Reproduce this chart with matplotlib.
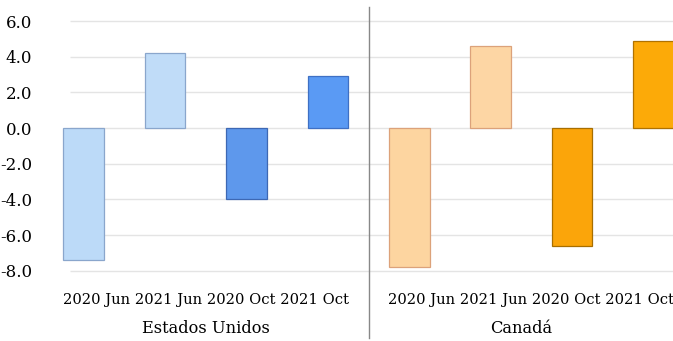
import matplotlib
matplotlib.use("Agg")
import matplotlib.pyplot as plt

# datos
periodos = ["2020 Jun", "2021 Jun", "2020 Oct", "2021 Oct"]
paises = ["Estados Unidos", "Canadá"]
valores_eeuu = [-7.4, 4.2, -4.0, 2.9]
valores_canada = [-7.8, 4.6, -6.6, 4.9]
yticks = [-8.0, -6.0, -4.0, -2.0, 0.0, 2.0, 4.0, 6.0]

colores_eeuu = ["#bcdaf8", "#c0dcf8", "#5e98ec", "#5a9af4"]
bordes_eeuu = ["#8aa6cc", "#8aa6cc", "#3d68b4", "#3f70c4"]
colores_canada = ["#fdd5a0", "#fdd6a4", "#fba50a", "#fcaa08"]
bordes_canada = ["#dca27a", "#dca27a", "#a86e00", "#b07200"]

fuente = "DejaVu Serif"

W, H = 673, 341
fig = plt.figure(figsize=(W / 100, H / 100), dpi=100)
# eje colocado en pixeles: y=6 en 21px, y=-8 en 270.7px
ax = fig.add_axes([43 / W, (H - 270.7) / H, (W - 43) / W, 249.7 / H])

valores = valores_eeuu + valores_canada
colores = colores_eeuu + colores_canada
bordes = bordes_eeuu + bordes_canada
x = list(range(len(valores)))

ax.bar(x, valores, width=0.5, color=colores, edgecolor=bordes, linewidth=0.9, zorder=3)

ax.set_ylim(-8, 6)
ax.set_xlim(-0.5, 7.24)
xmin, xmax = ax.get_xlim()
ax.set_yticks(yticks)
ax.set_yticklabels([f"{v:.1f}" for v in yticks], fontsize=12, family=fuente)
ax.set_xticks([])
ax.tick_params(axis="both", length=0)
ax.tick_params(axis="y", pad=8)
for s in ax.spines.values():
    s.set_visible(False)
ax.hlines(yticks, -0.17, xmax, color="#e4e4e4", linewidth=1, zorder=0, clip_on=False)

# separador entre grupos
ax.plot([3.5, 3.5], [-11.8, 6.8], color="#888888", linewidth=1, clip_on=False)

# etiquetas de periodos y de grupo
trans = ax.get_xaxis_transform()
centros = [1.5, 5.5]
centros_grupo = [(xmin + 3.5) / 2, (3.5 + xmax) / 2]
for c, cg, pais in zip(centros, centros_grupo, paises):
    ax.text(c, -0.118, " ".join(periodos), transform=trans, ha="center", va="center",
            fontsize=10.6, family=fuente)
    ax.text(cg, -0.23, pais, transform=trans, ha="center", va="center",
            fontsize=11.7, family=fuente)

fig.savefig("out.png", dpi=100)
